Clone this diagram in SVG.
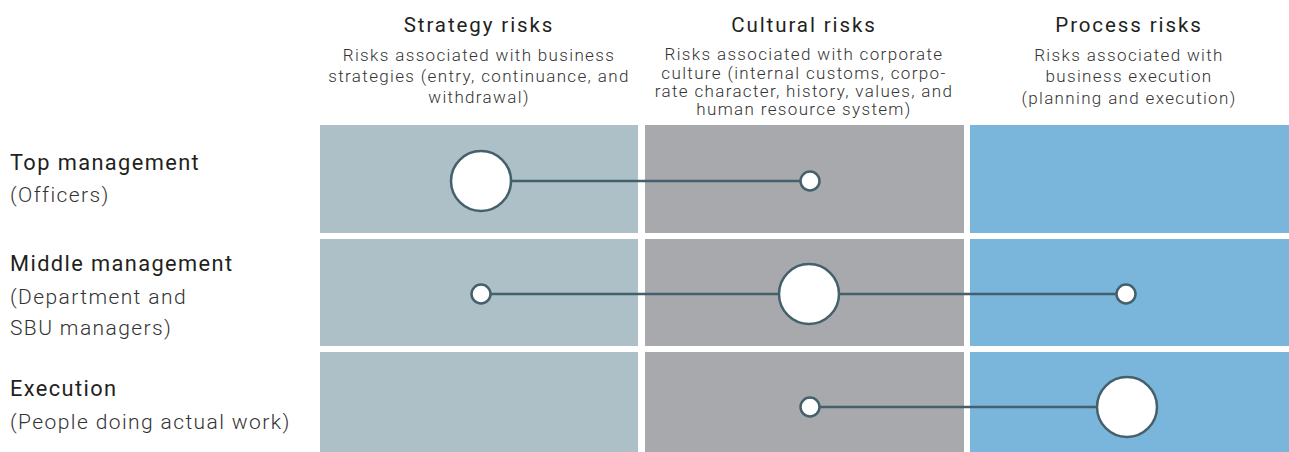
<svg xmlns="http://www.w3.org/2000/svg" width="1289" height="452" viewBox="0 0 1289 452">
<style>
.h{font-family:Roboto,"Liberation Sans",sans-serif;font-size:20.5px;fill:#231f20;text-anchor:middle;letter-spacing:1.9px}
.s{font-family:Roboto,"Liberation Sans",sans-serif;font-size:17px;font-weight:300;fill:#333;text-anchor:middle;letter-spacing:1.35px}
.l{font-family:Roboto,"Liberation Sans",sans-serif;font-size:21.8px;fill:#231f20;letter-spacing:1.4px}
.l2{font-family:Roboto,"Liberation Sans",sans-serif;font-size:21px;font-weight:300;fill:#333;letter-spacing:1.4px}
.c1{fill:#adc0c7}.c2{fill:#a8a9ad}.c3{fill:#7ab6db}
.n{fill:#fff;stroke:#44606b;stroke-width:2.5}
.e{stroke:#44606b;stroke-width:2.5;fill:none}
</style>
<rect width="1289" height="452" fill="#fff"/>
<g id="headers">
<text class="h" x="479" y="32">Strategy risks</text>
<text class="s" x="479" y="61">Risks associated with business</text>
<text class="s" x="479" y="82">strategies (entry, continuance, and</text>
<text class="s" x="479" y="103">withdrawal)</text>
<text class="h" x="804" y="32">Cultural risks</text>
<text class="s" x="804" y="60">Risks associated with corporate</text>
<text class="s" x="804" y="79">culture (internal customs, corpo-</text>
<text class="s" x="804" y="97">rate character, history, values, and</text>
<text class="s" x="804" y="115">human resource system)</text>
<text class="h" x="1129" y="32">Process risks</text>
<text class="s" x="1129" y="61">Risks associated with</text>
<text class="s" x="1129" y="82">business execution</text>
<text class="s" x="1129" y="104">(planning and execution)</text>
</g>
<g id="rows">
<text class="l" x="10" y="170">Top management</text>
<text class="l2" x="10" y="202">(Officers)</text>
<text class="l" x="10" y="271">Middle management</text>
<text class="l2" x="10" y="304">(Department and</text>
<text class="l2" x="10" y="335">SBU managers)</text>
<text class="l" x="10" y="396">Execution</text>
<text class="l2" x="10" y="429">(People doing actual work)</text>
</g>
<g id="grid">
<rect class="c1" x="320" y="125" width="318" height="108"/>
<rect class="c2" x="645" y="125" width="319" height="108"/>
<rect class="c3" x="970" y="125" width="319" height="108"/>
<rect class="c1" x="320" y="239" width="318" height="107"/>
<rect class="c2" x="645" y="239" width="319" height="107"/>
<rect class="c3" x="970" y="239" width="319" height="107"/>
<rect class="c1" x="320" y="352" width="318" height="100"/>
<rect class="c2" x="645" y="352" width="319" height="100"/>
<rect class="c3" x="970" y="352" width="319" height="100"/>
</g>
<g id="connectors">
<line class="e" x1="481" y1="181" x2="810" y2="181"/>
<line class="e" x1="481" y1="294" x2="1126" y2="294"/>
<line class="e" x1="810" y1="407" x2="1127" y2="407"/>
</g>
<g id="top-big"><circle class="n" cx="481" cy="181" r="30"/></g>
<g id="top-small"><circle class="n" cx="810" cy="181" r="9.5"/></g>
<g id="mid-left"><circle class="n" cx="481" cy="294" r="9.5"/></g>
<g id="mid-big"><circle class="n" cx="809" cy="294" r="30"/></g>
<g id="mid-right"><circle class="n" cx="1126" cy="294" r="9.5"/></g>
<g id="exe-small"><circle class="n" cx="810" cy="407" r="9.5"/></g>
<g id="exe-big"><circle class="n" cx="1127" cy="407" r="30"/></g>
</svg>
